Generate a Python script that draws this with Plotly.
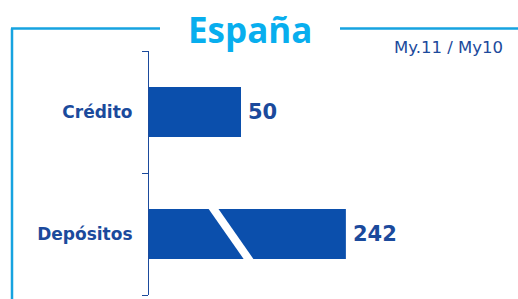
import plotly.graph_objects as go

# ---- data ----
categories = ["Crédito", "Depósitos"]
values = [50, 242]
title_text = "España"
period_text = "My.11 / My10"

# broken-axis parameters (data units)
BREAK_START = 60
BREAK_END = 195

def display(v):
    return v if v <= BREAK_START else BREAK_START + (v - BREAK_END)

disp_values = [display(v) for v in values]

# ---- layout geometry ----
W, H = 518, 299
L, R, T, B = 149, 10, 51, 4
PW, PH = W - L - R, H - T - B
PX_PER_UNIT = 1.84
x_max = PW / PX_PER_UNIT
SLASH_AT = 44.6  # display position of the break marker

def xp(px):
    return (px - L) / PW

def yp(py):
    return (H - B - py) / PH

BAR_COLOR = "#0B4FAC"
TEXT_COLOR = "#1B4A9C"
FRAME_COLOR = "#16A3E0"
TITLE_COLOR = "#08AEEE"
BAR_WIDTH = 0.41

fig = go.Figure()
fig.add_trace(go.Bar(
    y=categories, x=disp_values, orientation="h",
    marker=dict(color=BAR_COLOR, line=dict(width=0)),
    width=BAR_WIDTH, hoverinfo="skip",
))

# value labels
for c, v, d in zip(categories, values, disp_values):
    fig.add_annotation(x=d, y=c, text=f"<b>{v}</b>", showarrow=False,
                       xanchor="left", yanchor="middle", xshift=5,
                       font=dict(family="DejaVu Sans", size=21, color=TEXT_COLOR))

shapes = []
# axis-break slash on bars exceeding the break
idx_map = {c: i for i, c in enumerate(reversed(categories))}
for c, v in zip(categories, values):
    if v > BREAK_END:
        yi = idx_map[c]
        half_h = 0.3
        dx = (35 / PX_PER_UNIT) * (2 * half_h / BAR_WIDTH) / 2
        shapes.append(dict(type="line", xref="x", yref="y",
                           x0=SLASH_AT - dx, y0=yi + half_h,
                           x1=SLASH_AT + dx, y1=yi - half_h,
                           line=dict(color="white", width=8)))

# decorative frame
frame_y = yp(28.5)
shapes += [
    dict(type="line", xref="paper", yref="paper", x0=xp(11), x1=xp(160),
         y0=frame_y, y1=frame_y, line=dict(color=FRAME_COLOR, width=2.5)),
    dict(type="line", xref="paper", yref="paper", x0=xp(340), x1=xp(520),
         y0=frame_y, y1=frame_y, line=dict(color=FRAME_COLOR, width=2.5)),
    dict(type="line", xref="paper", yref="paper", x0=xp(12), x1=xp(12),
         y0=frame_y, y1=yp(305), line=dict(color=FRAME_COLOR, width=2.5)),
]

fig.add_annotation(xref="paper", yref="paper", x=xp(250), y=yp(29),
                   text="<b>" + title_text + "</b>", showarrow=False,
                   xanchor="center", yanchor="middle",
                   font=dict(family="Open Sans", size=35, color=TITLE_COLOR))
fig.add_annotation(xref="paper", yref="paper", x=xp(505), y=yp(48),
                   text=period_text, showarrow=False,
                   xanchor="right", yanchor="middle",
                   font=dict(family="DejaVu Sans", size=16.5, color=TEXT_COLOR))

fig.update_layout(
    width=W, height=H,
    margin=dict(l=L, r=R, t=T, b=B, pad=0),
    paper_bgcolor="white", plot_bgcolor="white",
    showlegend=False, shapes=shapes,
    xaxis=dict(range=[0, x_max], visible=False, fixedrange=True),
    yaxis=dict(type="category", categoryorder="array",
               categoryarray=list(reversed(categories)),
               range=[-0.5, len(categories) - 0.5],
               showline=True, linecolor=TEXT_COLOR, linewidth=1.2,
               ticks="outside", tickson="boundaries", ticklen=6,
               tickcolor=TEXT_COLOR, tickwidth=1.2,
               showgrid=False, zeroline=False, fixedrange=True,
               ticklabelstandoff=12,
               tickfont=dict(family="DejaVu Sans", size=17, color=TEXT_COLOR, weight="bold")),
)

fig.write_html("out.html", config={"displayModeBar": False},
               post_script="document.body.style.margin='0';")
